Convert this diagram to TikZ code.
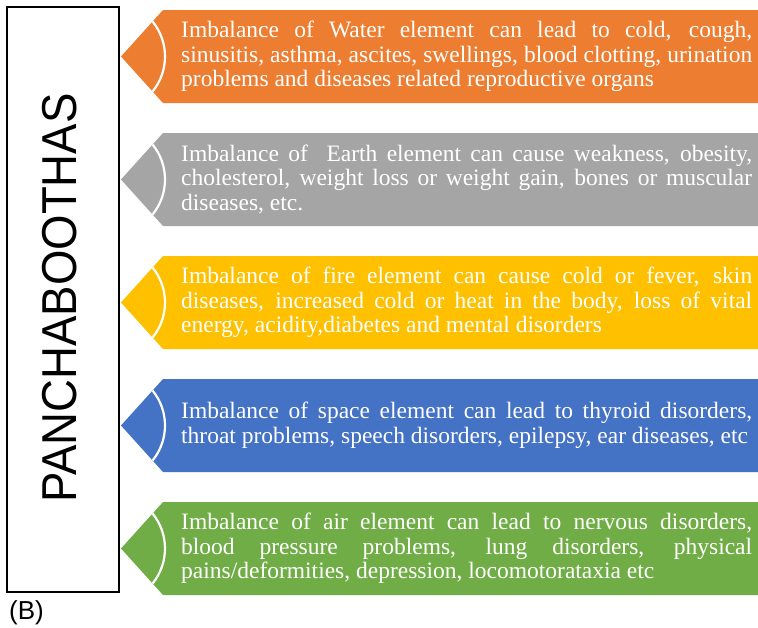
\documentclass[tikz,border=0pt]{standalone}
\usepackage{fontspec}
\usepackage{graphicx}
\setmainfont{Liberation Serif}
\newfontfamily\sansf{Liberation Sans}
\definecolor{cOrange}{HTML}{ED7D31}
\definecolor{cGray}{HTML}{A5A5A5}
\definecolor{cYellow}{HTML}{FFC000}
\definecolor{cBlue}{HTML}{4472C4}
\definecolor{cGreen}{HTML}{70AD47}
\newcommand{\jl}[1]{\makebox[571pt][s]{#1}}
\begin{document}
\begin{tikzpicture}[x=1pt,y=-1pt,
  bantext/.style={anchor=west,inner sep=0pt,text=white,align=left,
    font=\fontsize{23.5}{24.5}\selectfont},
  arcline/.style={draw=white,line width=2.2pt}]
\useasboundingbox (0,0) rectangle (758,627);
\fill[white] (0,0) rectangle (758,627);
% left box
\node[draw=black,line width=2pt,minimum width=112pt,minimum height=585pt,inner sep=0pt] (box) at (63,299.5) {};
\node[rotate=90,inner sep=0pt,font=\sansf\fontsize{49}{49}\selectfont] (title) at (59.5,298) {\scalebox{0.93}[1]{PANCHABOOTHAS}};
\node[anchor=west,inner sep=0pt,font=\sansf\fontsize{26}{26}\selectfont] (lbl) at (9,613) {(B)};
% banners
\foreach \c/\col [count=\i] in {56.5/cOrange,179.5/cGray,302.5/cYellow,425.5/cBlue,548.5/cGreen}{
  \fill[\col] (121,\c) -- (163,\c-46.5) -- (758,\c-46.5) -- (758,\c+46.5) -- (163,\c+46.5) -- cycle;
  \begin{scope}
    \clip (121,\c) -- (163,\c-46.5) -- (758,\c-46.5) -- (758,\c+46.5) -- (163,\c+46.5) -- cycle;
    \draw[arcline] ([shift={(-39:55.5)}]109.5,\c) arc[start angle=-39,end angle=39,radius=55.5];
  \end{scope}
  \coordinate (t\i) at (181,\c);
}
\node[bantext] (b1) at (t1) {\jl{Imbalance of Water element can lead to cold, cough,}\\
\jl{sinusitis, asthma, ascites, swellings, blood clotting, urination}\\
problems and diseases related reproductive organs};
\node[bantext] (b2) at (t2) {\jl{Imbalance of\ \ Earth element can cause weakness, obesity,}\\
\jl{cholesterol, weight loss or weight gain, bones or muscular}\\
diseases, etc.};
\node[bantext] (b3) at (t3) {\jl{Imbalance of fire element can cause cold or fever, skin}\\
\jl{diseases, increased cold or heat in the body, loss of vital}\\
energy, acidity,diabetes and mental disorders};
\node[bantext] (b4) at (t4) {\jl{Imbalance of space element can lead to thyroid disorders,}\\
throat problems, speech disorders, epilepsy, ear diseases, etc};
\node[bantext] (b5) at (t5) {\jl{Imbalance of air element can lead to nervous disorders,}\\
\jl{blood pressure problems, lung disorders, physical}\\
pains/deformities, depression, locomotorataxia etc};
\end{tikzpicture}
\end{document}
